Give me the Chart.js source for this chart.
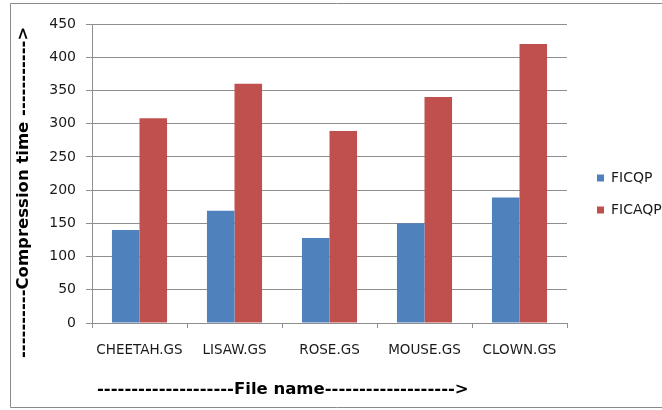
<!DOCTYPE html>
<html>
<head>
<meta charset="utf-8">
<script src="https://cdn.jsdelivr.net/npm/chart.js@4/dist/chart.umd.min.js"></script>
<style>
  html, body { margin: 0; padding: 0; background: #ffffff; overflow: hidden; }
  #wrap { position: relative; width: 662px; height: 410px; }
</style>
</head>
<body>
<div id="wrap"><canvas id="chart" width="662" height="410"></canvas></div>
<script>
// File names and compression times for the two methods
const categories = ['CHEETAH.GS', 'LISAW.GS', 'ROSE.GS', 'MOUSE.GS', 'CLOWN.GS'];
const ficqp = [140, 169, 128, 150, 189];
const ficaqp = [308, 360, 289, 340, 420];
const seriesNames = ['FICQP', 'FICAQP'];
const yTicks = { min: 0, max: 450, step: 50 };

const xTitle = '--------------------File name------------------->';
const yTitle = '----------Compression time ----------->';

const GRID = '#8e8e8e';
const FONT = '"DejaVu Sans", Verdana, sans-serif';

// Frame, rotated/horizontal axis titles and the right-hand legend
const decorations = {
  id: 'decorations',
  beforeDraw(chart) {
    const ctx = chart.ctx;
    ctx.save();
    ctx.fillStyle = '#ffffff';
    ctx.fillRect(0, 0, chart.width, chart.height);
    ctx.strokeStyle = '#8a8a8a';
    ctx.lineWidth = 1;
    ctx.beginPath();
    ctx.moveTo(chart.width, 3.5);
    ctx.lineTo(10.5, 3.5);
    ctx.lineTo(10.5, 407.5);
    ctx.lineTo(chart.width, 407.5);
    ctx.stroke();
    ctx.restore();
  },
  afterDraw(chart) {
    const ctx = chart.ctx;
    ctx.save();
    ctx.fillStyle = '#000000';
    ctx.font = 'bold 16.5px ' + FONT;
    ctx.textBaseline = 'middle';

    // horizontal title
    ctx.textAlign = 'left';
    ctx.fillText(xTitle, 97, 390);

    // vertical title, reads bottom to top
    ctx.translate(24, 358);
    ctx.rotate(-Math.PI / 2);
    ctx.fillText(yTitle, 0, 0);
    ctx.restore();

    // legend
    ctx.save();
    ctx.font = '14px ' + FONT;
    ctx.textBaseline = 'middle';
    ctx.textAlign = 'left';
    chart.data.datasets.forEach((ds, i) => {
      const cy = 178 + i * 32;
      ctx.fillStyle = ds.backgroundColor;
      ctx.fillRect(597, cy - 3.5, 7, 7);
      ctx.fillStyle = '#1a1a1a';
      ctx.fillText(ds.label, 611, cy);
    });
    ctx.restore();
  }
};

new Chart(document.getElementById('chart'), {
  type: 'bar',
  data: {
    labels: categories,
    datasets: [
      { label: seriesNames[0], data: ficqp, backgroundColor: '#4F81BD', borderWidth: 0 },
      { label: seriesNames[1], data: ficaqp, backgroundColor: '#C0504D', borderWidth: 0 }
    ]
  },
  options: {
    responsive: false,
    animation: false,
    devicePixelRatio: 1,
    layout: { padding: { left: 0, right: 95, top: 24, bottom: 0 } },
    datasets: { bar: { barPercentage: 1, categoryPercentage: 0.58 } },
    plugins: {
      legend: { display: false },
      tooltip: { enabled: false },
      title: { display: false }
    },
    scales: {
      x: {
        grid: { display: true, drawOnChartArea: false, drawTicks: true, tickLength: 5,
                offset: true, color: GRID },
        border: { display: true, color: GRID },
        ticks: { color: '#1a1a1a', font: { family: FONT, size: 13.5 }, padding: 14,
                 maxRotation: 0, autoSkip: false },
        afterFit(scale) { scale.height = 87; }
      },
      y: {
        min: yTicks.min,
        max: yTicks.max,
        grid: { color: GRID, tickLength: 6, drawTicks: true },
        border: { display: true, color: GRID },
        ticks: { stepSize: yTicks.step, color: '#1a1a1a', font: { family: FONT, size: 14 },
                 padding: 10 },
        afterFit(scale) { scale.width = 92; }
      }
    }
  },
  plugins: [decorations]
});
</script>
</body>
</html>
